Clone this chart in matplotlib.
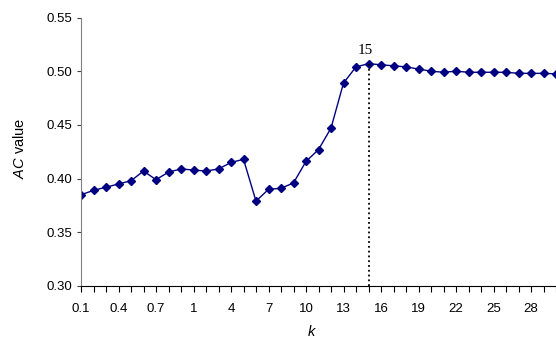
import numpy as np
import matplotlib.pyplot as plt

plt.rcParams['font.family'] = 'Liberation Sans'
plt.rcParams['mathtext.fontset'] = 'custom'
plt.rcParams['mathtext.rm'] = 'Liberation Sans'
plt.rcParams['mathtext.it'] = 'Liberation Sans:italic'

# k values (first 0.1..0.9, then integers 1..30)
k_labels = ['0.1', '0.2', '0.3', '0.4', '0.5', '0.6', '0.7', '0.8', '0.9'] + \
           [str(i) for i in range(1, 31)]

# AC value for each k
ac = [0.385, 0.389, 0.392, 0.395, 0.398, 0.407, 0.399, 0.406, 0.409,
      0.408, 0.407, 0.409, 0.415, 0.418, 0.379, 0.390, 0.391, 0.396,
      0.416, 0.427, 0.447, 0.489, 0.504, 0.507, 0.506, 0.505, 0.504,
      0.502, 0.500, 0.499, 0.500, 0.499, 0.499, 0.499, 0.499, 0.498,
      0.498, 0.498, 0.4975]

best_k = '15'

x = np.arange(len(k_labels))
best = k_labels.index(best_k)

fig = plt.figure(figsize=(5.56, 3.45), dpi=100)
ax = fig.add_axes([81/556, 1 - 286/345, 475/556, 268.5/345])

ax.plot(x, ac, color='#000080', lw=1.0, marker='D', markersize=4.2)

# dotted drop line at the best k
ax.plot([x[best], x[best]], [0.30, ac[best]], color='black', ls=':', lw=1.3)
ax.annotate(best_k, (x[best], ac[best]), xytext=(-2, 5),
            textcoords='offset points', ha='center', va='bottom',
            fontsize=11, family='Liberation Serif')

ax.set_xlim(0, 37.8)
ax.set_ylim(0.30, 0.55)
yt = np.arange(0.30, 0.551, 0.05)
ax.set_yticks(yt)
ax.set_yticklabels(['%.2f' % v for v in yt])
ax.set_xticks(x)
ax.set_xticklabels([lab if i % 3 == 0 else '' for i, lab in enumerate(k_labels)])

for s in ['top', 'right']:
    ax.spines[s].set_visible(False)
ax.spines['left'].set_color('#808080')
ax.spines['bottom'].set_color('black')
ax.tick_params(axis='y', direction='out', length=3, width=0.8,
               color='#404040', labelsize=9.5, pad=3)
ax.tick_params(axis='x', direction='out', length=4, width=0.8,
               color='black', labelsize=9.5, pad=8)

fig.text(20/556, 1 - 148/345, r'$\mathit{AC}$ value', rotation=90,
         ha='center', va='center', fontsize=10.5)
fig.text(312/556, 1 - 331/345, r'$\mathit{k}$', ha='center', va='center',
         fontsize=10.5)

fig.savefig('out.png', dpi=100)
